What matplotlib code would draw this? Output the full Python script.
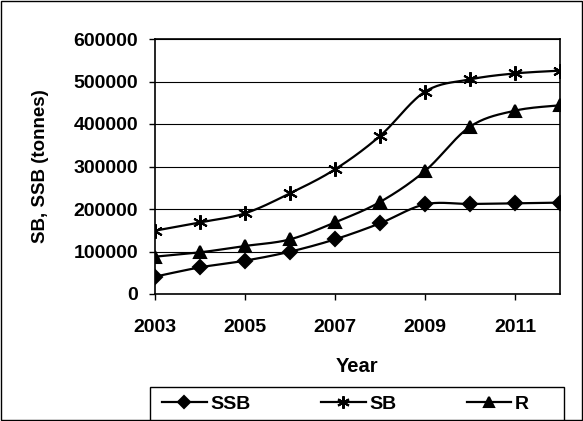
import numpy as np
import matplotlib.pyplot as plt
from matplotlib.patches import Rectangle

years = [2003, 2004, 2005, 2006, 2007, 2008, 2009, 2010, 2011, 2012]
ssb = [40800, 62700, 78400, 99600, 128600, 166300, 211000, 211800, 213300, 215000]
sb = [149000, 168600, 189800, 236900, 293300, 371800, 476000, 505000, 519000, 525500]
r = [87800, 98000, 113000, 128600, 168600, 216500, 289400, 393700, 431400, 444000]
series_names = ["SSB", "SB", "R"]
x_ticks = [2003, 2005, 2007, 2009, 2011]
y_ticks = [0, 100000, 200000, 300000, 400000, 500000, 600000]

plt.rcParams['font.family'] = ['Liberation Sans', 'DejaVu Sans']
plt.rcParams['font.weight'] = 'bold'


def smooth(x, y, n=20):
    # Excel-like smoothed line (Catmull-Rom through the points)
    x = np.asarray(x, float)
    y = np.asarray(y, float)
    px = np.concatenate([[x[0]], x, [x[-1]]])
    py = np.concatenate([[y[0]], y, [y[-1]]])
    xs, ys = [], []
    t = np.linspace(0, 1, n)
    for i in range(1, len(px) - 2):
        p0, p1, p2, p3 = (np.array([px[j], py[j]]) for j in range(i - 1, i + 3))
        c1 = p1 + (p2 - p0) / 6
        c2 = p2 - (p3 - p1) / 6
        pts = ((1 - t) ** 3)[:, None] * p1 + (3 * (1 - t) ** 2 * t)[:, None] * c1 \
            + (3 * (1 - t) * t ** 2)[:, None] * c2 + (t ** 3)[:, None] * p2
        xs.extend(pts[:, 0])
        ys.extend(pts[:, 1])
    return xs, ys


fig = plt.figure(figsize=(5.83, 4.21), dpi=100)
ax = fig.add_axes([155 / 583, 1 - 294 / 421, 405 / 583, 255 / 421])

styles = [(ssb, "D", 7.5), (sb, (6, 2, 0), 10.5), (r, "^", 8.5)]
handles = []
for (vals, marker, ms), name in zip(styles, series_names):
    sx, sy = smooth(years, vals)
    ax.plot(sx, sy, color="black", lw=1.6, zorder=2)
    ax.plot(years, vals, ls="none", marker=marker, ms=ms, color="black",
            mec="black", mew=1.5, zorder=3)
    h, = ax.plot([], [], color="black", lw=1.6, marker=marker, ms=ms - 1.5, mew=1.5)
    handles.append(h)

ax.set_xlim(2003, 2012)
ax.set_ylim(0, 600000)
ax.set_xticks(x_ticks)
ax.set_yticks(y_ticks)
ax.set_yticklabels([str(v) for v in y_ticks])
ax.tick_params(labelsize=14, direction="out", length=4, width=1)
ax.tick_params(axis="x", pad=14)
ax.tick_params(axis="y", pad=8)
ax.grid(axis="y", color="black", lw=0.8)
ax.set_axisbelow(True)
for s in ax.spines.values():
    s.set_linewidth(1.2)
ax.set_xlabel("Year", fontsize=14.5, fontweight="bold", labelpad=15)
ax.set_ylabel("SB, SSB (tonnes)", fontsize=13.5, fontweight="bold", labelpad=18)

# legend box, running off the bottom edge like the reference
fig.patches.append(Rectangle((150 / 583, -0.05), 414 / 583, 0.05 + 34 / 421,
                             transform=fig.transFigure, fill=False,
                             edgecolor="black", lw=1))
leg = fig.legend(handles, series_names, loc="center left", ncol=3,
                 bbox_to_anchor=(162 / 583, 1 - 404 / 421), frameon=False,
                 fontsize=14, handlelength=2.3, handletextpad=0.2,
                 columnspacing=3.6, borderaxespad=0, borderpad=0)

fig.patches.append(Rectangle((0.002, 0.002), 0.996, 0.995, transform=fig.transFigure,
                             fill=False, edgecolor="black", lw=1))

fig.savefig("out.png", dpi=100)
